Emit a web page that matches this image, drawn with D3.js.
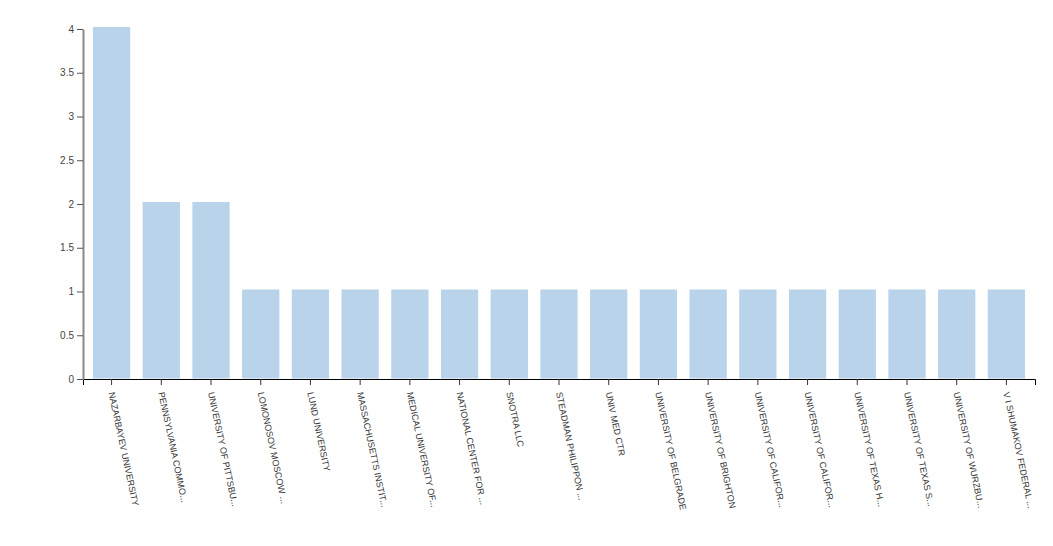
<!DOCTYPE html>
<html><head><meta charset="utf-8">
<script src="https://cdn.jsdelivr.net/npm/d3@7"></script>
<style>
body{margin:0;background:#fff;}
text{font-family:"Liberation Sans",Arial,sans-serif;}
</style></head>
<body><svg id="c" width="1053" height="546"></svg>
<script>
const categories = ["NAZARBAYEV UNIVERSITY","PENNSYLVANIA COMMO...","UNIVERSITY OF PITTSBU...","LOMONOSOV MOSCOW ...","LUND UNIVERSITY","MASSACHUSETTS INSTIT...","MEDICAL UNIVERSITY OF...","NATIONAL CENTER FOR ...","SNOTRA LLC","STEADMAN PHILIPPON ...","UNIV MED CTR","UNIVERSITY OF BELGRADE","UNIVERSITY OF BRIGHTON","UNIVERSITY OF CALIFOR...","UNIVERSITY OF CALIFOR...","UNIVERSITY OF TEXAS H...","UNIVERSITY OF TEXAS S...","UNIVERSITY OF WURZBU...","V I SHUMAKOV FEDERAL ..."];
const values = [4,2,2,1,1,1,1,1,1,1,1,1,1,1,1,1,1,1,1];
const yTicks = [0,0.5,1,1.5,2,2.5,3,3.5,4];

const svg = d3.select("#c");
const m = {l:83, r:18, t:29, b:167};
const W = 1053, H = 546;
const ids = categories.map((d,i)=>i);
const x = d3.scaleBand().domain(ids).range([m.l, W-m.r]).paddingInner(0.25).paddingOuter(0.2);
const y = d3.scaleLinear().domain([0,4]).range([H-m.b, m.t]);

svg.append("g").selectAll("rect").data(values).join("rect")
  .attr("x",(d,i)=>x(i)).attr("width",x.bandwidth())
  .attr("y",d=>y(d)-2).attr("height",d=>y(0)-y(d)+1.5)
  .attr("fill","#b9d3eb");

const gx = svg.append("g").attr("transform",`translate(0,${H-m.b})`)
  .call(d3.axisBottom(x).tickFormat(i=>categories[i]).tickSizeOuter(6));
gx.select(".domain").attr("stroke","#000");
gx.selectAll(".tick line").attr("stroke","#333");
gx.selectAll("text").attr("fill","#333").attr("font-size","9px")
  .attr("text-anchor","start").attr("x",0).attr("y",0).attr("dy","0.35em")
  .attr("transform","translate(0,13) rotate(78)");

const gy = svg.append("g").attr("transform",`translate(${m.l},0)`)
  .call(d3.axisLeft(y).tickValues(yTicks).tickFormat(d3.format("")).tickSizeOuter(0));
gy.select(".domain").attr("stroke","#888").attr("stroke-width",2);
gy.selectAll(".tick line").attr("stroke","#555");
gy.selectAll("text").attr("fill","#444").attr("font-size","10px");
</script></body></html>
